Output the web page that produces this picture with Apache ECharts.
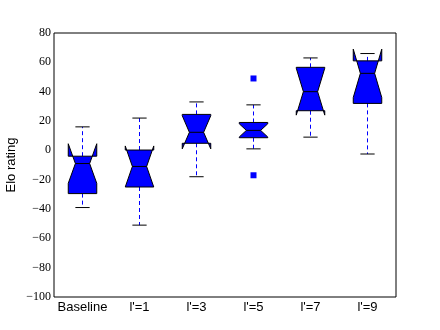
<!DOCTYPE html>
<html>
<head>
<meta charset="utf-8">
<script src="https://cdn.jsdelivr.net/npm/echarts@6/dist/echarts.min.js"></script>
<style>
html, body { margin: 0; padding: 0; background: #ffffff; }
#box { width: 440px; height: 330px; }
</style>
</head>
<body>
<div id="box"></div>
<script>
// data
const categories = ["Baseline", "l'=1", "l'=3", "l'=5", "l'=7", "l'=9"]
const lowerWhisker = [-39, -51, -18, 1, 9, -2.5]
const q1 = [-29.5, -25, 4.8, 8.6, 27, 32]
const median = [-9, -11, 12.3, 13.6, 40, 52.5]
const q3 = [-4, 0.2, 24.5, 19, 56.6, 61]
const upperWhisker = [16, 22, 33, 31, 63, 66]
const notchLow = [-22.5, -25, 1, 9.1, 24, 36]
const notchHigh = [4.5, 3, 23.6, 18.1, 56, 69]
const outliers = [[3, 49], [3, -17]]
const yTicks = { min: -100, max: 80, interval: 20 }

const rows = categories.map((c, i) => [i, lowerWhisker[i], q1[i], median[i], q3[i], upperWhisker[i], notchLow[i], notchHigh[i]])

function renderBox(params, api) {
	const i = api.value(0)
	const bw = api.size([1, 0])[0] * 0.5
	const x = api.coord([i, 0])[0]
	const y = (k) => api.coord([i, api.value(k)])[1]
	const L = x - bw / 2, R = x + bw / 2
	const nl = x - bw / 4, nr = x + bw / 4
	const lw = y(1), a = y(2), m = y(3), b = y(4), uw = y(5), nlo = y(6), nhi = y(7)
	const dash = { stroke: "#0000ff", lineWidth: 1, lineDash: [4, 3] }
	const blk = { stroke: "#000000", lineWidth: 1 }
	return {
		type: "group",
		children: [
			{ type: "line", shape: { x1: x, y1: b, x2: x, y2: uw }, style: dash },
			{ type: "line", shape: { x1: x, y1: a, x2: x, y2: lw }, style: dash },
			{ type: "line", shape: { x1: nl, y1: uw, x2: nr, y2: uw }, style: blk },
			{ type: "line", shape: { x1: nl, y1: lw, x2: nr, y2: lw }, style: blk },
			{
				type: "polygon",
				shape: {
					points: [[L, a], [R, a], [R, nlo], [nr, m], [R, nhi], [R, b], [L, b], [L, nhi], [nl, m], [L, nlo]],
				},
				style: { fill: "#0000ff", stroke: "#000000", lineWidth: 1 },
			},
			{ type: "line", shape: { x1: nl, y1: m, x2: nr, y2: m }, style: blk },
		],
	}
}

const chart = echarts.init(document.getElementById("box"))
const tickStyle = { inside: true, length: 4, lineStyle: { color: "#000" } }
const option = {
	animation: false,
	grid: {
		left: 54, right: 44, top: 33, bottom: 33,
		containLabel: false, outerBoundsMode: "none",
		show: true, borderColor: "#000", borderWidth: 1,
	},
	xAxis: [
		{
			type: "category",
			data: categories,
			boundaryGap: true,
			axisLine: { show: false },
			axisTick: Object.assign({ alignWithLabel: true, interval: 0 }, tickStyle),
			axisLabel: { color: "#000", fontSize: 13, fontFamily: "Liberation Sans", margin: 4, interval: 0 },
		},
		{
			type: "category",
			data: categories,
			position: "top",
			boundaryGap: true,
			axisLine: { show: false },
			axisTick: Object.assign({ alignWithLabel: true, interval: 0 }, tickStyle),
			axisLabel: { show: false },
		},
	],
	yAxis: [
		{
			type: "value",
			min: yTicks.min,
			max: yTicks.max,
			interval: yTicks.interval,
			name: "Elo rating",
			nameLocation: "middle",
			nameGap: 36,
			nameMoveOverlap: false,
			nameTextStyle: { color: "#000", fontSize: 13, fontFamily: "Liberation Sans" },
			axisLine: { show: false },
			axisTick: tickStyle,
			splitLine: { show: false },
			axisLabel: {
				color: "#000",
				fontSize: 12,
				fontFamily: "Liberation Serif",
				margin: 3,
				formatter: (v) => String(v).replace("-", "\u2212"),
			},
		},
		{
			type: "value",
			min: yTicks.min,
			max: yTicks.max,
			interval: yTicks.interval,
			position: "right",
			axisLine: { show: false },
			axisTick: tickStyle,
			splitLine: { show: false },
			axisLabel: { show: false },
		},
	],
	series: [
		{
			type: "custom",
			renderItem: renderBox,
			encode: { x: 0, y: [1, 2, 3, 4, 5, 6, 7] },
			data: rows,
			z: 2,
		},
		{
			type: "scatter",
			symbol: "rect",
			symbolSize: 6,
			itemStyle: { color: "#0000ff", opacity: 1 },
			data: outliers,
			z: 3,
		},
	],
}
chart.setOption(option)
</script>
</body>
</html>
